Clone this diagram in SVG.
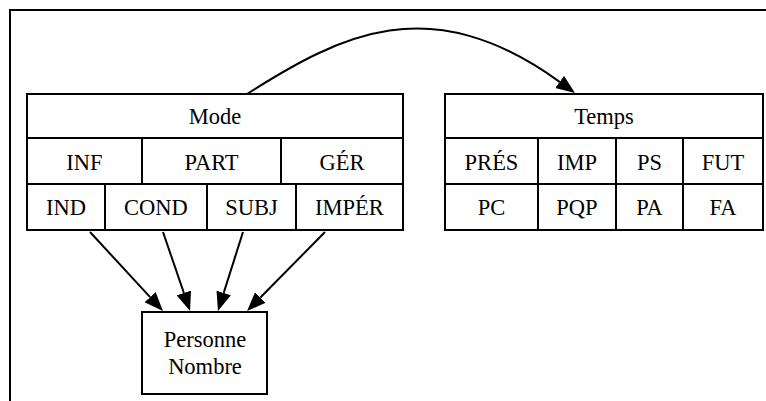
<svg xmlns="http://www.w3.org/2000/svg" width="766" height="401" viewBox="0 0 766 401">
<defs>
<style>
.b{fill:#fff;stroke:#000;stroke-width:2}
.l{fill:none;stroke:#000;stroke-width:2}
.t{font-family:"Liberation Serif","Times New Roman",serif;font-size:22.5px;fill:#000;text-anchor:middle}
</style>
<marker id="ah" markerUnits="userSpaceOnUse" markerWidth="20" markerHeight="16" refX="0" refY="8" orient="auto" viewBox="0 0 20 16">
<path d="M0,0.5 L19,8 L0,15.5 Z" fill="#000"/>
</marker>
</defs>
<rect width="766" height="401" fill="#fff"/>
<g id="frame"><path class="l" d="M10,401 L10,10 L766,10"/></g>
<g id="mode">
<rect class="b" x="27" y="94" width="376" height="136"/>
<path class="l" d="M27,138 H403 M27,184 H403 M142,138 V184 M281,138 V184 M105,184 V230 M207,184 V230 M296,184 V230"/>
<text class="t" x="215" y="124">Mode</text>
<text class="t" x="84.5" y="170">INF</text>
<text class="t" x="211.5" y="170">PART</text>
<text class="t" x="342" y="170">GÉR</text>
<text class="t" x="66" y="215">IND</text>
<text class="t" x="156" y="215">COND</text>
<text class="t" x="251.5" y="215">SUBJ</text>
<text class="t" x="349.5" y="215">IMPÉR</text>
</g>
<g id="temps">
<rect class="b" x="445" y="94" width="318" height="136"/>
<path class="l" d="M445,138 H763 M445,184 H763 M538,138 V230 M616,138 V230 M683,138 V230"/>
<text class="t" x="604" y="124">Temps</text>
<text class="t" x="491.5" y="170">PRÉS</text>
<text class="t" x="577" y="170">IMP</text>
<text class="t" x="649.5" y="170">PS</text>
<text class="t" x="723" y="170">FUT</text>
<text class="t" x="491.5" y="215">PC</text>
<text class="t" x="577" y="215">PQP</text>
<text class="t" x="649.5" y="215">PA</text>
<text class="t" x="723" y="215">FA</text>
</g>
<g id="personne">
<rect class="b" x="142" y="312" width="125" height="82"/>
<text class="t" x="205" y="347">Personne</text>
<text class="t" x="205" y="374">Nombre</text>
</g>
<g id="connectors">
<path class="l" marker-end="url(#ah)" d="M247,94 C340,35 430,-12 559.6,81.9"/>
<path class="l" marker-end="url(#ah)" d="M90,232 L150.1,297.1"/>
<path class="l" marker-end="url(#ah)" d="M163,232 L183.9,293"/>
<path class="l" marker-end="url(#ah)" d="M243,232 L223.7,292.9"/>
<path class="l" marker-end="url(#ah)" d="M325,232 L260.4,297.5"/>
</g>
</svg>
